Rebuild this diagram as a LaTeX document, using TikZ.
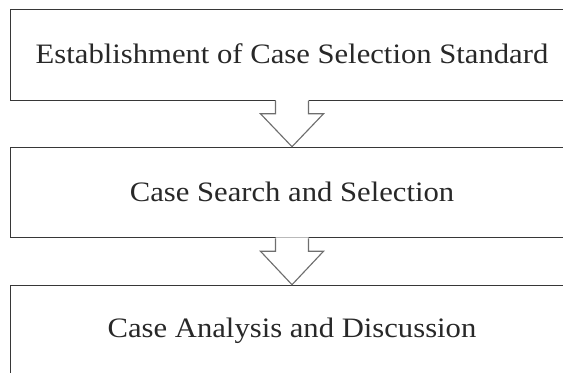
\documentclass[tikz,border=0pt]{standalone}
\usepackage{fontspec}
\setmainfont[FakeStretch=1.09]{Liberation Serif}
\usepackage{xcolor}
\usepackage{tikz}
\usetikzlibrary{calc}
\definecolor{StepLine}{RGB}{55, 55, 55}
\definecolor{StepArrow}{RGB}{110, 110, 110}
\definecolor{StepText}{RGB}{40, 40, 40}

\begin{document}
\begin{tikzpicture}[x=0.025cm, y=-0.025cm,
    stepbox/.style={draw=StepLine, line width=0.8pt, fill=white, inner sep=0pt,
        minimum width=14.05cm, minimum height=2.26cm, text=StepText,
        font=\fontsize{20}{24}\selectfont},
    arrowline/.style={draw=StepArrow, line width=0.8pt}]
    \useasboundingbox (0,0) rectangle (563,373);
    \clip (0,0) rectangle (563,373);

    % Steps
    \node[stepbox] (standard) at (292,55) {\raisebox{1.5pt}{Establishment of Case Selection Standard}};
    \node[stepbox] (search) at (292,192.5) {\raisebox{1.5pt}{Case Search and Selection}};
    \node[stepbox] (analysis) at (292,330.5) {\raisebox{1.5pt}{Case Analysis and Discussion}};

    % Hollow arrows between the steps
    \foreach \from/\to in {standard/search, search/analysis} {
        \fill[white] ($(\from.south)+(-16.5,-1)$) -- ($(\from.south)+(-16.5,13)$)
            -- ($(\from.south)+(-31.5,13)$) -- (\to.north)
            -- ($(\from.south)+(31.5,13)$) -- ($(\from.south)+(16.5,13)$)
            -- ($(\from.south)+(16.5,-1)$) -- cycle;
        \draw[arrowline] ($(\from.south)+(-16.5,0)$) -- ($(\from.south)+(-16.5,13)$)
            -- ($(\from.south)+(-31.5,13)$) -- (\to.north)
            -- ($(\from.south)+(31.5,13)$) -- ($(\from.south)+(16.5,13)$)
            -- ($(\from.south)+(16.5,0)$);
    }
\end{tikzpicture}
\end{document}
